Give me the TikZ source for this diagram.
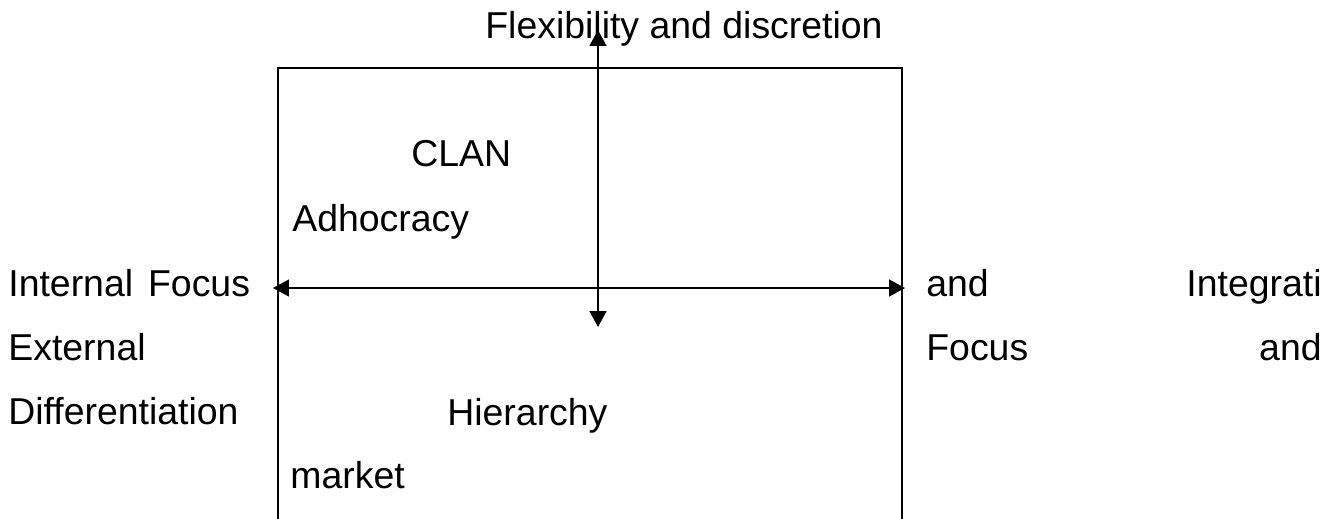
\documentclass[tikz,border=0pt]{standalone}
\usepackage{fontspec}
\setmainfont{Liberation Sans}
\usetikzlibrary{arrows.meta}

\begin{document}
\begin{tikzpicture}[x=0.02cm,y=-0.02cm,
    lbl/.style={anchor=base west,inner sep=0pt,font=\fontsize{21.3}{25}\selectfont},
    rlbl/.style={lbl,anchor=base east},
    axis/.style={line width=1.1pt,{Triangle[length=9pt,width=9.5pt]}-{Triangle[length=9pt,width=9.5pt]}}]
        \useasboundingbox (0,0) rectangle (1336,518);

        % Box (runs off the bottom)
        \draw[line width=1.1pt] (278,540) -- (278,68) -- (902,68) -- (902,540);

        % Axis end points
        \coordinate (top) at (598,30);
        \coordinate (bottom) at (598,327);
        \coordinate (left) at (273,288);
        \coordinate (right) at (905,288);

        % Axes
        \draw[axis] (left) -- (right);
        \draw[axis] (top) -- (bottom);

        % Top label
        \node[lbl] (flex) at (485,38) {Flexibility and discretion};

        % Labels inside the box
        \node[lbl] (clan) at (411,166) {CLAN};
        \node[lbl] (adhoc) at (292,231) {Adhocracy};
        \node[lbl] (hier) at (447,425) {Hierarchy};
        \node[lbl] (market) at (290,488) {market};

        % Left column
        \node[lbl] (internal) at (8,296) {Internal\hspace{0.4em}Focus};
        \node[lbl] (external) at (8,360) {External};
        \node[lbl] (diff) at (8,424) {Differentiation};

        % Right column
        \node[lbl] (and1) at (926,296) {and};
        \node[rlbl] (integ) at (1322,296) {Integrati};
        \node[lbl] (focus) at (926,360) {Focus};
        \node[rlbl] (and2) at (1322,360) {and};

    \end{tikzpicture}
\end{document}
